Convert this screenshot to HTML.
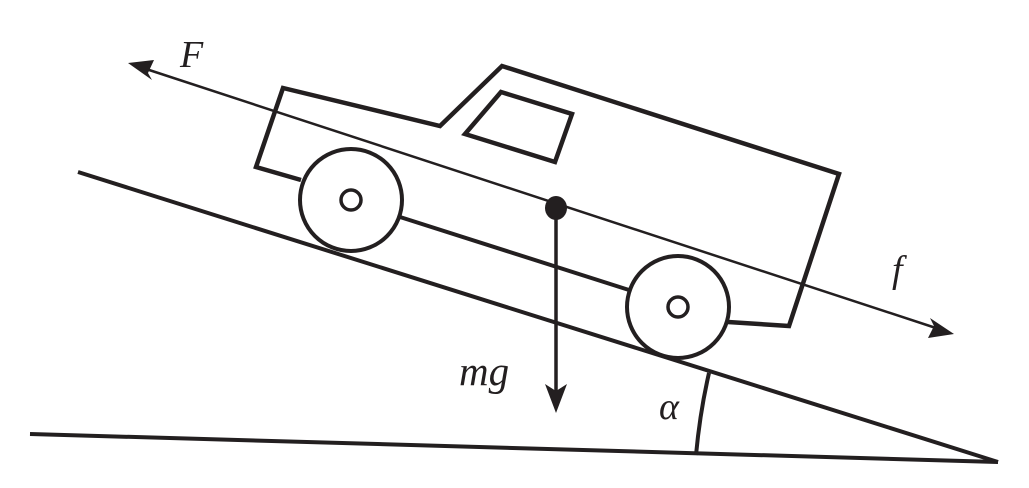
<!DOCTYPE html>
<html><head><style>
html,body{margin:0;padding:0;background:#fff;}
svg{display:block;}
text{font-family:"Liberation Serif",serif;font-style:italic;fill:#231f20;}
</style></head><body>
<svg width="1029" height="488" viewBox="0 0 1029 488" xmlns="http://www.w3.org/2000/svg">
<g stroke="#231f20" fill="none" stroke-linejoin="miter">
<line x1="78" y1="172" x2="998" y2="462" stroke-width="4"/>
<line x1="30" y1="434" x2="998" y2="462" stroke-width="4"/>
<path d="M709 373 Q700 412 696 455" stroke-width="4"/>
<polyline points="301,180 256,167 283,88 440,126 502,66 839,174 789,326 728,322" stroke-width="4.5"/>
<line x1="400" y1="217" x2="629" y2="290" stroke-width="4"/>
<polygon points="501,92 572,114 555,162 465,134" stroke-width="4.5"/>
<circle cx="351" cy="200" r="51" stroke-width="4"/>
<circle cx="351" cy="200" r="10" stroke-width="3.5"/>
<circle cx="678" cy="307" r="51" stroke-width="4"/>
<circle cx="678" cy="307" r="10" stroke-width="3.5"/>
<line x1="140" y1="67" x2="942" y2="330" stroke-width="2.5"/>
<line x1="556" y1="208" x2="556" y2="392" stroke-width="3.5"/>
</g>
<g fill="#231f20">
<polygon points="128,63 154,60 148,73 152,80"/>
<polygon points="954,334 928,338 934,326 930,318"/>
<polygon points="556,413 545,384 556,391 567,384"/>
<ellipse cx="556" cy="208" rx="11" ry="12"/>
</g>
<text x="180" y="67" font-size="38">F</text>
<text x="892" y="282" font-size="38">f</text>
<text x="459" y="385" font-size="41">mg</text>
<text x="659" y="419" font-size="38">α</text>
</svg>
</body></html>
